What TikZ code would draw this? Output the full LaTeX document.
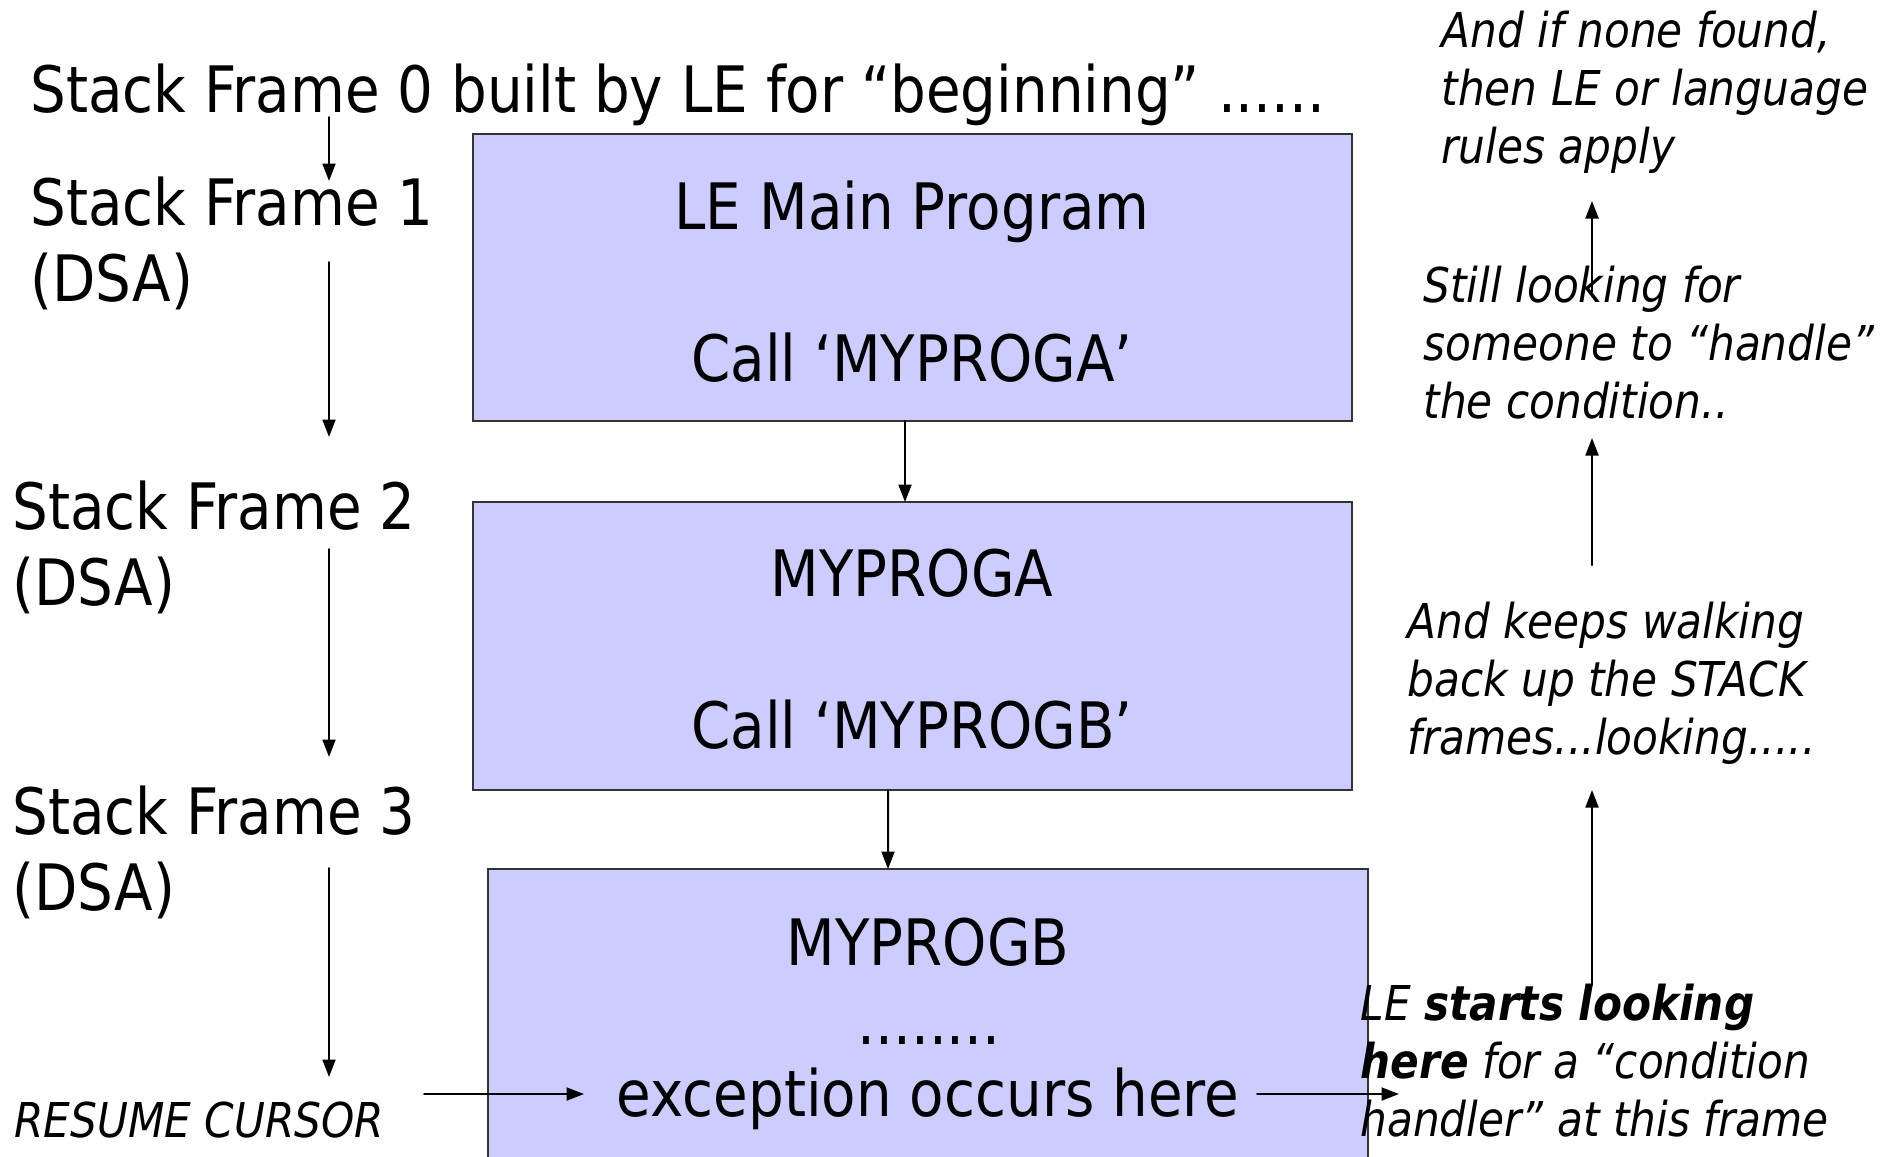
\documentclass[tikz,border=0pt]{standalone}
\usepackage{fontspec}
\setmainfont{DejaVu Sans}[FakeStretch=0.88]
\usepackage{tikz}
\usetikzlibrary{arrows.meta}
\usepackage{xcolor}
\definecolor{framefill}{HTML}{CCCCFF}

\begin{document}
\begin{tikzpicture}[x=0.4pt,y=-0.4pt,>={Triangle[length=7pt,width=5.2pt]},line cap=round,
  frame/.style={draw=black!80,line width=0.8pt,fill=framefill,inner sep=0pt,outer sep=0pt},
  lbl/.style={inner sep=0pt,anchor=base west,align=left,font=\fontsize{25.6}{30.4}\selectfont},
  note/.style={inner sep=0pt,anchor=base west,align=left,font=\fontsize{19.2}{23.2}\selectfont\itshape},
  intext/.style={inner sep=0pt,anchor=base,font=\fontsize{25.6}{30.4}\selectfont},
  link/.style={->,line width=0.8pt}]
\useasboundingbox (0,0) rectangle (1891,1156);
\clip (0,0) rectangle (1891,1156);

\node[frame,minimum width=351.6pt,minimum height=114.8pt] (m1) at (912.5,277.5) {};
\node[frame,minimum width=351.6pt,minimum height=115.2pt] (m2) at (912.5,646) {};
\node[frame,minimum width=352pt,minimum height=120pt] (m3) at (928,1019) {};

\node[intext] (m1a) at (912,229) {LE Main Program};
\node[intext] (m1b) at (912,381) {Call ‘MYPROGA’};
\node[intext] (m2a) at (912,596) {MYPROGA};
\node[intext] (m2b) at (912,748) {Call ‘MYPROGB’};
\node[intext] (m3a) at (928,965) {MYPROGB};
\node[intext] (m3b) at (929,1044) {........};
\node[intext] (m3c) at (928,1116) {exception occurs here};

% multi-line labels sit on the baseline of their last line
\node[lbl] (sf0) at (30,112) {Stack Frame 0 built by LE for “beginning” ......};
\node[lbl] (sf1) at (30,301) {Stack Frame 1\\(DSA)};
\node[lbl] (sf2) at (12,605) {Stack Frame 2\\(DSA)};
\node[lbl] (sf3) at (12,910) {Stack Frame 3\\(DSA)};
\node[note] (resume) at (14,1137) {RESUME CURSOR};

\node[note] (nfail) at (1441,163) {And if none found,\\then LE or language\\rules apply};
\node[note] (nstill) at (1423,418) {Still looking for\\someone to “handle”\\the condition..};
\node[note] (nwalk) at (1407,754) {And keeps walking\\back up the STACK\\frames...looking.....};
\node[note] (nstart) at (1360,1136) {LE \textbf{starts looking}\\\textbf{here} for a “condition\\handler” at this frame};

\coordinate (l0) at (329,117);
\coordinate (l1) at (329,181);
\coordinate (l2) at (329,262);
\coordinate (l3) at (329,437);
\coordinate (l4) at (329,549);
\coordinate (l5) at (329,757);
\coordinate (l6) at (329,868);
\coordinate (l7) at (329,1077);
\coordinate (r0) at (424,1094);
\coordinate (r1) at (584,1094);
\coordinate (e0) at (1257,1094);
\coordinate (e1) at (1399,1094);
\coordinate (u0) at (1592,292);
\coordinate (u1) at (1592,201);
\coordinate (u2) at (1592,565);
\coordinate (u3) at (1592,438);
\coordinate (u4) at (1592,985);
\coordinate (u5) at (1592,790);

\draw[link] (l0) -- (l1);
\draw[link] (l2) -- (l3);
\draw[link] (l4) -- (l5);
\draw[link] (l6) -- (l7);
\draw[link] (r0) -- (r1);
\draw[link] (e0) -- (e1);
\draw[link] (u0) -- (u1);
\draw[link] (u2) -- (u3);
\draw[link] (u4) -- (u5);
\draw[link] ([xshift=-3pt]m1.south) -- ([xshift=-3pt]m2.north);
\draw[link] ([xshift=-9.8pt]m2.south) -- ([xshift=-16pt]m3.north);
\end{tikzpicture}
\end{document}
